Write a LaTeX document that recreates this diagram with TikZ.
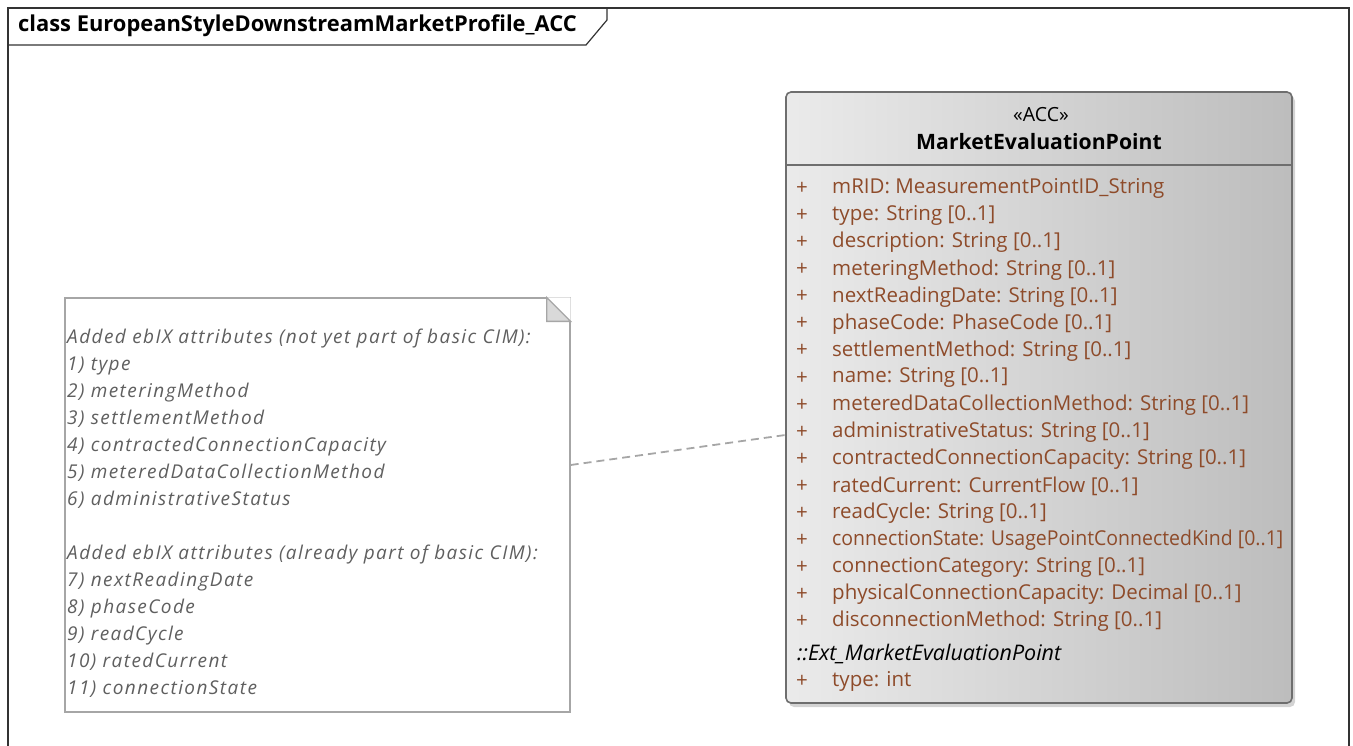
\documentclass[tikz,border=0pt]{standalone}
\usepackage{fontspec}
\setmainfont{Open Sans}
\usetikzlibrary{calc}
\usetikzlibrary{shadows}
\usepackage{xcolor}
\definecolor{attrbrown}{HTML}{8E4B2A}
\definecolor{notegray}{HTML}{5F5F5F}
\definecolor{boxline}{HTML}{6E6E6E}

\begin{document}
\begin{tikzpicture}[x=1pt, y=-1pt,
  framel/.style={draw=black!80, line width=1.2pt},
  classbox/.style={draw=boxline, line width=1.6pt, rounded corners=5pt,
    left color=black!8, right color=black!26, minimum width=506pt, minimum height=611pt,
    drop shadow={shadow xshift=3pt, shadow yshift=-4pt, opacity=.35}},
  attr/.style={anchor=west, inner sep=0pt, text=attrbrown, font=\fontsize{20.5}{24}\selectfont},
  notebox/.style={draw=black!35, line width=1.3pt, fill=white},
  conn/.style={draw=black!35, line width=1.8pt, dash pattern=on 8pt off 5pt}]
\useasboundingbox (0,0) rectangle (1353,745);
\clip (0,0) rectangle (1353,745);
% diagram frame
\draw[framel] (8,8) rectangle (1349,780);
\draw[framel] (8,45) -- (586,45) -- (607,20) -- (607,8);
\node[anchor=west, inner sep=0pt, font=\bfseries\fontsize{21.9}{24}\selectfont] (title) at (18,26)
  {class EuropeanStyleDownstreamMarketProfile\_ACC};

% the class
\node[classbox] (mep) at (1039,397.5) {};
\draw[draw=boxline, line width=1.3pt] (mep.west |- 0,165) -- (mep.east |- 0,165);
\node[inner sep=0pt, font=\fontsize{19.5}{22}\selectfont] (stereo) at (1041,115) {«ACC»};
\node[inner sep=0pt, font=\bfseries\fontsize{21.2}{24}\selectfont] (cname) at (1039,142) {MarketEvaluationPoint};
\foreach \txt [count=\i] in {mRID: MeasurementPointID\_String, type: String [0..1],
  description: String [0..1], meteringMethod: String [0..1], nextReadingDate: String [0..1],
  phaseCode: PhaseCode [0..1], settlementMethod: String [0..1], name: String [0..1],
  meteredDataCollectionMethod: String [0..1], administrativeStatus: String [0..1],
  contractedConnectionCapacity: String [0..1], ratedCurrent: CurrentFlow [0..1],
  readCycle: String [0..1], {\scalebox{.95}[1]{connectionState: UsagePointConnectedKind [0..1]}},
  connectionCategory: String [0..1], physicalConnectionCapacity: Decimal [0..1],
  disconnectionMethod: String [0..1]} {
  \node[attr] (p\i) at (796,{188.5+27.06*(\i-1)}) {+};
  \node[attr] (a\i) at (832,{188.5+27.06*(\i-1)}) {\txt};
}
\node[attr, text=black, font=\itshape\fontsize{21.5}{24}\selectfont] (ext) at (797,654) {::Ext\_MarketEvaluationPoint};
\node[attr] (p18) at (796,681.5) {+};
\node[attr] (a18) at (832,681.5) {type: int};

% the note
\node[notebox, minimum width=505pt, minimum height=414pt] (note) at (317.5,505) {};
\fill[white] ([xshift=-24pt]note.north east) -- (note.north east) -- ([yshift=-24pt]note.north east) -- cycle;
\draw[draw=black!35, line width=1.3pt, fill=black!15]
  ([xshift=-24pt]note.north east) -- ([xshift=-24pt, yshift=-24pt]note.north east)
  -- ([yshift=-24pt]note.north east) -- cycle;
\node[anchor=north west, inner sep=0pt, align=left, text=notegray,
  font=\itshape\fontsize{19}{27}\selectfont\addfontfeature{LetterSpace=7.5}] (notetext) at (67,329)
  {Added ebIX attributes (not yet part of basic CIM):\\
   1) type\\
   2) meteringMethod\\
   3) settlementMethod\\
   4) contractedConnectionCapacity\\
   5) meteredDataCollectionMethod\\
   6) administrativeStatus\\[27pt]
   Added ebIX attributes (already part of basic CIM):\\
   7) nextReadingDate\\
   8) phaseCode\\
   9) readCycle\\
   10) ratedCurrent\\
   11) connectionState};

\draw[conn] ([yshift=40]note.east) -- ([yshift=-37.5]mep.west);
\end{tikzpicture}
\end{document}
